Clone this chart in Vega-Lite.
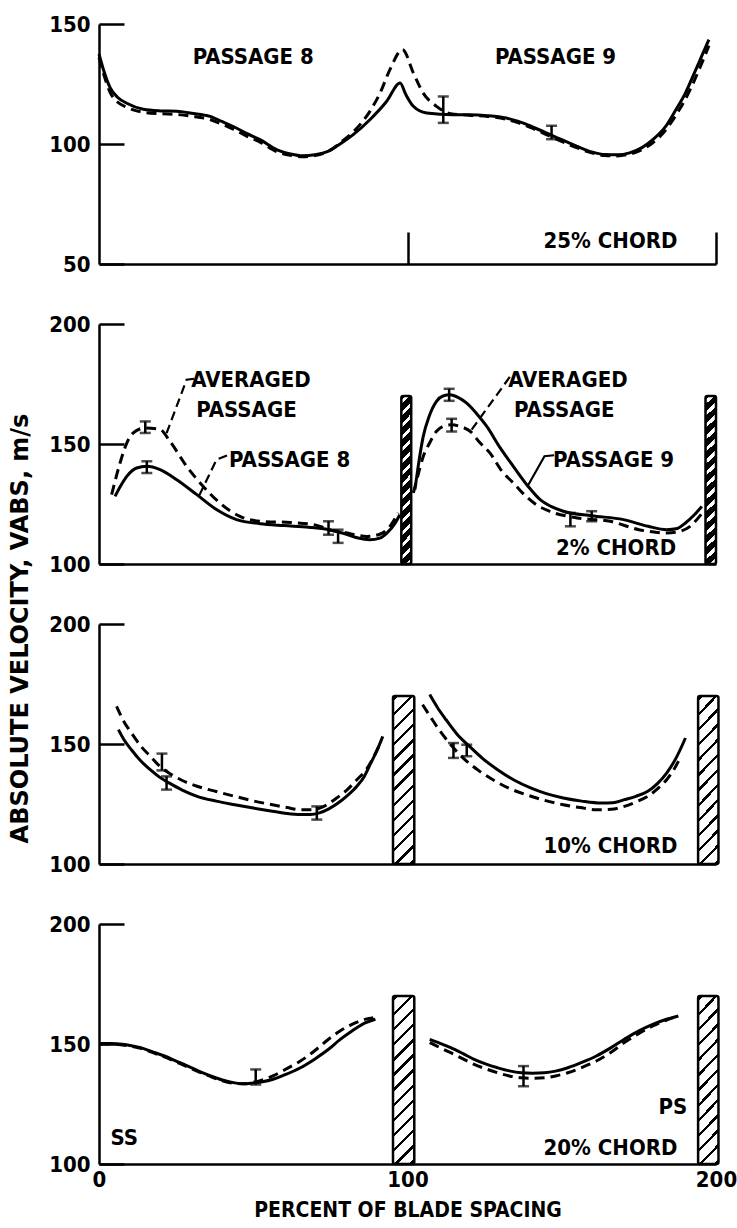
{
"$schema":"https://vega.github.io/schema/vega-lite/v6.json",
"padding":{"left":8,"top":13,"right":4,"bottom":4},
"spacing":60,
"bounds":"flush",
"config":{
 "view":{"stroke":null},
 "axis":{"domainColor":"black","domainWidth":2.5,"tickColor":"black","tickWidth":2.5,"labelColor":"black","labelFont":"DejaVu Sans Condensed","labelFontSize":22,"labelFontWeight":"bold","titleColor":"black","titleFont":"DejaVu Sans Condensed","grid":false,"labelFlush":false,"labelOverlap":false}
},
"datasets":{
 "curves":[
  {"panel":1,"style":"solid","seg":"a","x":0,"v":137.5},{"panel":1,"style":"solid","seg":"a","x":1.2,"v":132},{"panel":1,"style":"solid","seg":"a","x":3.6,"v":123.5},{"panel":1,"style":"solid","seg":"a","x":6,"v":119.5},{"panel":1,"style":"solid","seg":"a","x":9,"v":117},{"panel":1,"style":"solid","seg":"a","x":14.4,"v":114.5},{"panel":1,"style":"solid","seg":"a","x":20,"v":113.8},{"panel":1,"style":"solid","seg":"a","x":25.2,"v":113.6},{"panel":1,"style":"solid","seg":"a","x":30,"v":112.8},{"panel":1,"style":"solid","seg":"a","x":36,"v":111.5},{"panel":1,"style":"solid","seg":"a","x":40,"v":109.3},{"panel":1,"style":"solid","seg":"a","x":43.5,"v":107.3},{"panel":1,"style":"solid","seg":"a","x":48,"v":104.3},{"panel":1,"style":"solid","seg":"a","x":52.2,"v":101.8},{"panel":1,"style":"solid","seg":"a","x":57.7,"v":97.6},{"panel":1,"style":"solid","seg":"a","x":62,"v":95.9},{"panel":1,"style":"solid","seg":"a","x":66,"v":95.1},{"panel":1,"style":"solid","seg":"a","x":70,"v":95.5},{"panel":1,"style":"solid","seg":"a","x":74.4,"v":97},{"panel":1,"style":"solid","seg":"a","x":78.5,"v":100.3},{"panel":1,"style":"solid","seg":"a","x":82.4,"v":103.9},{"panel":1,"style":"solid","seg":"a","x":87.8,"v":110.1},{"panel":1,"style":"solid","seg":"a","x":93.2,"v":117.7},{"panel":1,"style":"solid","seg":"a","x":97.6,"v":125.4},{"panel":1,"style":"solid","seg":"a","x":99.5,"v":120.5},{"panel":1,"style":"solid","seg":"a","x":101.9,"v":115.7},{"panel":1,"style":"solid","seg":"a","x":106.2,"v":112.9},{"panel":1,"style":"solid","seg":"a","x":114.8,"v":112.2},{"panel":1,"style":"solid","seg":"a","x":120,"v":112.2},{"panel":1,"style":"solid","seg":"a","x":126,"v":111.8},{"panel":1,"style":"solid","seg":"a","x":132,"v":110.8},{"panel":1,"style":"solid","seg":"a","x":136,"v":109.4},{"panel":1,"style":"solid","seg":"a","x":140,"v":107.4},{"panel":1,"style":"solid","seg":"a","x":147.5,"v":103.2},{"panel":1,"style":"solid","seg":"a","x":155,"v":99},{"panel":1,"style":"solid","seg":"a","x":160,"v":96.6},{"panel":1,"style":"solid","seg":"a","x":164,"v":95.6},{"panel":1,"style":"solid","seg":"a","x":168,"v":95.5},{"panel":1,"style":"solid","seg":"a","x":172,"v":96.3},{"panel":1,"style":"solid","seg":"a","x":176,"v":98.5},{"panel":1,"style":"solid","seg":"a","x":179.5,"v":101.8},{"panel":1,"style":"solid","seg":"a","x":183.5,"v":107},{"panel":1,"style":"solid","seg":"a","x":187,"v":114.3},{"panel":1,"style":"solid","seg":"a","x":190,"v":121},{"panel":1,"style":"solid","seg":"a","x":193,"v":129.6},{"panel":1,"style":"solid","seg":"a","x":195.5,"v":137},{"panel":1,"style":"solid","seg":"a","x":197.7,"v":143.5},
  {"panel":1,"style":"dashed","seg":"a","x":0,"v":136},{"panel":1,"style":"dashed","seg":"a","x":1.2,"v":130.5},{"panel":1,"style":"dashed","seg":"a","x":3.6,"v":121.5},{"panel":1,"style":"dashed","seg":"a","x":6,"v":117.5},{"panel":1,"style":"dashed","seg":"a","x":9,"v":115.3},{"panel":1,"style":"dashed","seg":"a","x":14.4,"v":113.2},{"panel":1,"style":"dashed","seg":"a","x":20,"v":112.6},{"panel":1,"style":"dashed","seg":"a","x":25.2,"v":112.3},{"panel":1,"style":"dashed","seg":"a","x":30,"v":111.6},{"panel":1,"style":"dashed","seg":"a","x":36,"v":110.2},{"panel":1,"style":"dashed","seg":"a","x":40,"v":108.2},{"panel":1,"style":"dashed","seg":"a","x":43.5,"v":106.2},{"panel":1,"style":"dashed","seg":"a","x":48,"v":103.2},{"panel":1,"style":"dashed","seg":"a","x":52.2,"v":100.8},{"panel":1,"style":"dashed","seg":"a","x":57.7,"v":96.8},{"panel":1,"style":"dashed","seg":"a","x":62,"v":95.3},{"panel":1,"style":"dashed","seg":"a","x":66,"v":94.7},{"panel":1,"style":"dashed","seg":"a","x":70,"v":95.2},{"panel":1,"style":"dashed","seg":"a","x":74.4,"v":97},{"panel":1,"style":"dashed","seg":"a","x":78.5,"v":100.8},{"panel":1,"style":"dashed","seg":"a","x":82.4,"v":105},{"panel":1,"style":"dashed","seg":"a","x":87.8,"v":113.6},{"panel":1,"style":"dashed","seg":"a","x":91.1,"v":121.2},{"panel":1,"style":"dashed","seg":"a","x":94.3,"v":131},{"panel":1,"style":"dashed","seg":"a","x":98.4,"v":139.3},{"panel":1,"style":"dashed","seg":"a","x":101.9,"v":129.6},{"panel":1,"style":"dashed","seg":"a","x":105.1,"v":121.2},{"panel":1,"style":"dashed","seg":"a","x":109.4,"v":115.7},{"panel":1,"style":"dashed","seg":"a","x":114,"v":112.6},{"panel":1,"style":"dashed","seg":"a","x":120,"v":112},{"panel":1,"style":"dashed","seg":"a","x":126,"v":111.5},{"panel":1,"style":"dashed","seg":"a","x":132,"v":110.3},{"panel":1,"style":"dashed","seg":"a","x":136,"v":108.8},{"panel":1,"style":"dashed","seg":"a","x":140,"v":106.8},{"panel":1,"style":"dashed","seg":"a","x":147.5,"v":102.5},{"panel":1,"style":"dashed","seg":"a","x":155,"v":98.4},{"panel":1,"style":"dashed","seg":"a","x":160,"v":96.2},{"panel":1,"style":"dashed","seg":"a","x":164,"v":95.2},{"panel":1,"style":"dashed","seg":"a","x":168,"v":95},{"panel":1,"style":"dashed","seg":"a","x":172,"v":95.8},{"panel":1,"style":"dashed","seg":"a","x":176,"v":97.6},{"panel":1,"style":"dashed","seg":"a","x":179.5,"v":100.5},{"panel":1,"style":"dashed","seg":"a","x":183.5,"v":105.5},{"panel":1,"style":"dashed","seg":"a","x":187,"v":112},{"panel":1,"style":"dashed","seg":"a","x":190,"v":118.5},{"panel":1,"style":"dashed","seg":"a","x":193,"v":126.5},{"panel":1,"style":"dashed","seg":"a","x":195.5,"v":134},{"panel":1,"style":"dashed","seg":"a","x":197.7,"v":141},

  {"panel":2,"style":"solid","seg":"8","x":5.2,"v":128.2},{"panel":2,"style":"solid","seg":"8","x":7,"v":132.5},{"panel":2,"style":"solid","seg":"8","x":9,"v":136.5},{"panel":2,"style":"solid","seg":"8","x":12.2,"v":140},{"panel":2,"style":"solid","seg":"8","x":15.5,"v":140.7},{"panel":2,"style":"solid","seg":"8","x":19.8,"v":139.3},{"panel":2,"style":"solid","seg":"8","x":25.2,"v":135.1},{"panel":2,"style":"solid","seg":"8","x":31.7,"v":128.9},{"panel":2,"style":"solid","seg":"8","x":38.2,"v":122.6},{"panel":2,"style":"solid","seg":"8","x":44.6,"v":118.5},{"panel":2,"style":"solid","seg":"8","x":52.2,"v":116.8},{"panel":2,"style":"solid","seg":"8","x":60,"v":116},{"panel":2,"style":"solid","seg":"8","x":68,"v":115.3},{"panel":2,"style":"solid","seg":"8","x":74.4,"v":114.3},{"panel":2,"style":"solid","seg":"8","x":80,"v":112.5},{"panel":2,"style":"solid","seg":"8","x":84,"v":110.8},{"panel":2,"style":"solid","seg":"8","x":87.8,"v":110.1},{"panel":2,"style":"solid","seg":"8","x":91,"v":110.8},{"panel":2,"style":"solid","seg":"8","x":93.3,"v":112.9},{"panel":2,"style":"solid","seg":"8","x":96,"v":117},{"panel":2,"style":"solid","seg":"8","x":97.5,"v":120.5},
  {"panel":2,"style":"dashed","seg":"8","x":4.1,"v":128.9},{"panel":2,"style":"dashed","seg":"8","x":6.8,"v":142},{"panel":2,"style":"dashed","seg":"8","x":9,"v":150.4},{"panel":2,"style":"dashed","seg":"8","x":11.1,"v":154.6},{"panel":2,"style":"dashed","seg":"8","x":14.9,"v":156.7},{"panel":2,"style":"dashed","seg":"8","x":19.8,"v":156},{"panel":2,"style":"dashed","seg":"8","x":23,"v":151.1},{"panel":2,"style":"dashed","seg":"8","x":28.4,"v":140.7},{"panel":2,"style":"dashed","seg":"8","x":33.8,"v":132.3},{"panel":2,"style":"dashed","seg":"8","x":39.2,"v":125.4},{"panel":2,"style":"dashed","seg":"8","x":45.7,"v":119.8},{"panel":2,"style":"dashed","seg":"8","x":52.2,"v":117.8},{"panel":2,"style":"dashed","seg":"8","x":62,"v":117.3},{"panel":2,"style":"dashed","seg":"8","x":70,"v":116.3},{"panel":2,"style":"dashed","seg":"8","x":74.9,"v":114.3},{"panel":2,"style":"dashed","seg":"8","x":80,"v":113},{"panel":2,"style":"dashed","seg":"8","x":86.8,"v":111.5},{"panel":2,"style":"dashed","seg":"8","x":91.2,"v":112.5},{"panel":2,"style":"dashed","seg":"8","x":94.3,"v":115.7},{"panel":2,"style":"dashed","seg":"8","x":97,"v":121.3},
  {"panel":2,"style":"solid","seg":"9","x":102.4,"v":131},{"panel":2,"style":"solid","seg":"9","x":103.5,"v":141},{"panel":2,"style":"solid","seg":"9","x":105.1,"v":153.2},{"panel":2,"style":"solid","seg":"9","x":107,"v":161.5},{"panel":2,"style":"solid","seg":"9","x":109.4,"v":167.8},{"panel":2,"style":"solid","seg":"9","x":111.5,"v":170},{"panel":2,"style":"solid","seg":"9","x":113.8,"v":170.5},{"panel":2,"style":"solid","seg":"9","x":116.5,"v":169.3},{"panel":2,"style":"solid","seg":"9","x":119.2,"v":167},{"panel":2,"style":"solid","seg":"9","x":122.5,"v":162.5},{"panel":2,"style":"solid","seg":"9","x":125.7,"v":157.3},{"panel":2,"style":"solid","seg":"9","x":130,"v":148.5},{"panel":2,"style":"solid","seg":"9","x":134.3,"v":140.7},{"panel":2,"style":"solid","seg":"9","x":139,"v":132.5},{"panel":2,"style":"solid","seg":"9","x":143,"v":126.8},{"panel":2,"style":"solid","seg":"9","x":146.5,"v":124},{"panel":2,"style":"solid","seg":"9","x":150.5,"v":122},{"panel":2,"style":"solid","seg":"9","x":159.7,"v":120.1},{"panel":2,"style":"solid","seg":"9","x":170,"v":118.5},{"panel":2,"style":"solid","seg":"9","x":178,"v":115.7},{"panel":2,"style":"solid","seg":"9","x":184,"v":114.3},{"panel":2,"style":"solid","seg":"9","x":187.5,"v":114.8},{"panel":2,"style":"solid","seg":"9","x":190,"v":117},{"panel":2,"style":"solid","seg":"9","x":193,"v":120.5},{"panel":2,"style":"solid","seg":"9","x":195.4,"v":124},
  {"panel":2,"style":"dashed","seg":"9","x":101.9,"v":129.6},{"panel":2,"style":"dashed","seg":"9","x":103.5,"v":137.5},{"panel":2,"style":"dashed","seg":"9","x":105.1,"v":144.8},{"panel":2,"style":"dashed","seg":"9","x":107.2,"v":150.5},{"panel":2,"style":"dashed","seg":"9","x":109.4,"v":155.3},{"panel":2,"style":"dashed","seg":"9","x":111.8,"v":157.5},{"panel":2,"style":"dashed","seg":"9","x":114.3,"v":158},{"panel":2,"style":"dashed","seg":"9","x":117,"v":157.3},{"panel":2,"style":"dashed","seg":"9","x":120.3,"v":155.3},{"panel":2,"style":"dashed","seg":"9","x":123.5,"v":150.5},{"panel":2,"style":"dashed","seg":"9","x":126.7,"v":146.3},{"panel":2,"style":"dashed","seg":"9","x":130.7,"v":138.5},{"panel":2,"style":"dashed","seg":"9","x":134.3,"v":133.8},{"panel":2,"style":"dashed","seg":"9","x":138.4,"v":128.2},{"panel":2,"style":"dashed","seg":"9","x":142,"v":124.5},{"panel":2,"style":"dashed","seg":"9","x":146,"v":122},{"panel":2,"style":"dashed","seg":"9","x":155,"v":119.2},{"panel":2,"style":"dashed","seg":"9","x":165.7,"v":117.8},{"panel":2,"style":"dashed","seg":"9","x":175,"v":114.3},{"panel":2,"style":"dashed","seg":"9","x":180,"v":113.3},{"panel":2,"style":"dashed","seg":"9","x":184,"v":112.9},{"panel":2,"style":"dashed","seg":"9","x":188,"v":113.5},{"panel":2,"style":"dashed","seg":"9","x":191.6,"v":115.7},{"panel":2,"style":"dashed","seg":"9","x":195.4,"v":121},

  {"panel":3,"style":"solid","seg":"8","x":6.3,"v":156},{"panel":3,"style":"solid","seg":"8","x":8,"v":152},{"panel":3,"style":"solid","seg":"8","x":10.5,"v":147.6},{"panel":3,"style":"solid","seg":"8","x":13.5,"v":143},{"panel":3,"style":"solid","seg":"8","x":16.6,"v":139.3},{"panel":3,"style":"solid","seg":"8","x":19.5,"v":136.3},{"panel":3,"style":"solid","seg":"8","x":22.7,"v":133.8},{"panel":3,"style":"solid","seg":"8","x":27,"v":130.8},{"panel":3,"style":"solid","seg":"8","x":31.8,"v":128.2},{"panel":3,"style":"solid","seg":"8","x":38,"v":126.2},{"panel":3,"style":"solid","seg":"8","x":44,"v":124.7},{"panel":3,"style":"solid","seg":"8","x":50,"v":123.3},{"panel":3,"style":"solid","seg":"8","x":56.2,"v":122},{"panel":3,"style":"solid","seg":"8","x":61,"v":121},{"panel":3,"style":"solid","seg":"8","x":65.3,"v":120.6},{"panel":3,"style":"solid","seg":"8","x":68.5,"v":120.6},{"panel":3,"style":"solid","seg":"8","x":71.4,"v":121.3},{"panel":3,"style":"solid","seg":"8","x":74.5,"v":123},{"panel":3,"style":"solid","seg":"8","x":77.5,"v":125.4},{"panel":3,"style":"solid","seg":"8","x":80.5,"v":128.5},{"panel":3,"style":"solid","seg":"8","x":83.6,"v":132.4},{"panel":3,"style":"solid","seg":"8","x":86,"v":136.5},{"panel":3,"style":"solid","seg":"8","x":88.1,"v":142},{"panel":3,"style":"solid","seg":"8","x":90,"v":147},{"panel":3,"style":"solid","seg":"8","x":92,"v":153.2},
  {"panel":3,"style":"dashed","seg":"8","x":5.7,"v":165.7},{"panel":3,"style":"dashed","seg":"8","x":8,"v":159.5},{"panel":3,"style":"dashed","seg":"8","x":10.5,"v":154.6},{"panel":3,"style":"dashed","seg":"8","x":13.5,"v":149.2},{"panel":3,"style":"dashed","seg":"8","x":16.6,"v":144.9},{"panel":3,"style":"dashed","seg":"8","x":19.5,"v":141},{"panel":3,"style":"dashed","seg":"8","x":22.7,"v":137.9},{"panel":3,"style":"dashed","seg":"8","x":27,"v":134.8},{"panel":3,"style":"dashed","seg":"8","x":31.8,"v":132.4},{"panel":3,"style":"dashed","seg":"8","x":38,"v":130.2},{"panel":3,"style":"dashed","seg":"8","x":44,"v":128.2},{"panel":3,"style":"dashed","seg":"8","x":50,"v":126.3},{"panel":3,"style":"dashed","seg":"8","x":56.2,"v":124.7},{"panel":3,"style":"dashed","seg":"8","x":61,"v":123.5},{"panel":3,"style":"dashed","seg":"8","x":65.3,"v":122.6},{"panel":3,"style":"dashed","seg":"8","x":69,"v":122.6},{"panel":3,"style":"dashed","seg":"8","x":72.9,"v":124},{"panel":3,"style":"dashed","seg":"8","x":76.5,"v":127},{"panel":3,"style":"dashed","seg":"8","x":80.5,"v":131},{"panel":3,"style":"dashed","seg":"8","x":83.5,"v":135},{"panel":3,"style":"dashed","seg":"8","x":86.6,"v":139.3},{"panel":3,"style":"dashed","seg":"8","x":89,"v":144.5},{"panel":3,"style":"dashed","seg":"8","x":91.2,"v":150.4},
  {"panel":3,"style":"solid","seg":"9","x":107.2,"v":170.6},{"panel":3,"style":"solid","seg":"9","x":109.8,"v":165},{"panel":3,"style":"solid","seg":"9","x":112.5,"v":160.1},{"panel":3,"style":"solid","seg":"9","x":116,"v":154.2},{"panel":3,"style":"solid","seg":"9","x":120.1,"v":149},{"panel":3,"style":"solid","seg":"9","x":124.5,"v":143.8},{"panel":3,"style":"solid","seg":"9","x":129.2,"v":139.3},{"panel":3,"style":"solid","seg":"9","x":134.5,"v":135},{"panel":3,"style":"solid","seg":"9","x":139.9,"v":131.7},{"panel":3,"style":"solid","seg":"9","x":145,"v":129.3},{"panel":3,"style":"solid","seg":"9","x":150.5,"v":127.5},{"panel":3,"style":"solid","seg":"9","x":156.5,"v":126.2},{"panel":3,"style":"solid","seg":"9","x":162.7,"v":125.4},{"panel":3,"style":"solid","seg":"9","x":166.5,"v":125.5},{"panel":3,"style":"solid","seg":"9","x":170.3,"v":126.8},{"panel":3,"style":"solid","seg":"9","x":174,"v":128.2},{"panel":3,"style":"solid","seg":"9","x":177.9,"v":130.3},{"panel":3,"style":"solid","seg":"9","x":181,"v":133.5},{"panel":3,"style":"solid","seg":"9","x":184,"v":137.9},{"panel":3,"style":"solid","seg":"9","x":187,"v":144},{"panel":3,"style":"solid","seg":"9","x":190.1,"v":152.5},
  {"panel":3,"style":"dashed","seg":"9","x":104.9,"v":166.4},{"panel":3,"style":"dashed","seg":"9","x":108,"v":160.2},{"panel":3,"style":"dashed","seg":"9","x":111,"v":154.6},{"panel":3,"style":"dashed","seg":"9","x":114.8,"v":148.5},{"panel":3,"style":"dashed","seg":"9","x":118.6,"v":143.5},{"panel":3,"style":"dashed","seg":"9","x":123,"v":139},{"panel":3,"style":"dashed","seg":"9","x":127.7,"v":135.1},{"panel":3,"style":"dashed","seg":"9","x":133,"v":131.5},{"panel":3,"style":"dashed","seg":"9","x":138.4,"v":128.9},{"panel":3,"style":"dashed","seg":"9","x":144.5,"v":126.5},{"panel":3,"style":"dashed","seg":"9","x":150.5,"v":124.7},{"panel":3,"style":"dashed","seg":"9","x":156,"v":123.5},{"panel":3,"style":"dashed","seg":"9","x":161.2,"v":122.6},{"panel":3,"style":"dashed","seg":"9","x":166,"v":122.8},{"panel":3,"style":"dashed","seg":"9","x":170.3,"v":124},{"panel":3,"style":"dashed","seg":"9","x":174,"v":125.8},{"panel":3,"style":"dashed","seg":"9","x":177.9,"v":128.2},{"panel":3,"style":"dashed","seg":"9","x":181,"v":131.3},{"panel":3,"style":"dashed","seg":"9","x":184,"v":135.1},{"panel":3,"style":"dashed","seg":"9","x":186.5,"v":139.7},{"panel":3,"style":"dashed","seg":"9","x":188.6,"v":144.9},

  {"panel":4,"style":"solid","seg":"8","x":0.5,"v":150.2},{"panel":4,"style":"solid","seg":"8","x":4,"v":150.2},{"panel":4,"style":"solid","seg":"8","x":7.5,"v":149.9},{"panel":4,"style":"solid","seg":"8","x":10.5,"v":149.3},{"panel":4,"style":"solid","seg":"8","x":13.5,"v":148.5},{"panel":4,"style":"solid","seg":"8","x":17,"v":146.9},{"panel":4,"style":"solid","seg":"8","x":21.2,"v":145},{"panel":4,"style":"solid","seg":"8","x":25,"v":142.9},{"panel":4,"style":"solid","seg":"8","x":28.8,"v":140.8},{"panel":4,"style":"solid","seg":"8","x":32.5,"v":138.6},{"panel":4,"style":"solid","seg":"8","x":36.4,"v":136.6},{"panel":4,"style":"solid","seg":"8","x":40,"v":135},{"panel":4,"style":"solid","seg":"8","x":44,"v":133.8},{"panel":4,"style":"solid","seg":"8","x":47,"v":133.4},{"panel":4,"style":"solid","seg":"8","x":50,"v":133.8},{"panel":4,"style":"solid","seg":"8","x":53,"v":134.3},{"panel":4,"style":"solid","seg":"8","x":56.2,"v":135.2},{"panel":4,"style":"solid","seg":"8","x":60.5,"v":137.3},{"panel":4,"style":"solid","seg":"8","x":65.3,"v":140.1},{"panel":4,"style":"solid","seg":"8","x":70,"v":143.8},{"panel":4,"style":"solid","seg":"8","x":74.4,"v":147.8},{"panel":4,"style":"solid","seg":"8","x":78,"v":151.7},{"panel":4,"style":"solid","seg":"8","x":82,"v":155.4},{"panel":4,"style":"solid","seg":"8","x":85.5,"v":158.3},{"panel":4,"style":"solid","seg":"8","x":89.6,"v":160.3},
  {"panel":4,"style":"dashed","seg":"8","x":0.5,"v":150},{"panel":4,"style":"dashed","seg":"8","x":4,"v":150},{"panel":4,"style":"dashed","seg":"8","x":7.5,"v":149.6},{"panel":4,"style":"dashed","seg":"8","x":10.5,"v":149},{"panel":4,"style":"dashed","seg":"8","x":13.5,"v":148.2},{"panel":4,"style":"dashed","seg":"8","x":17,"v":146.6},{"panel":4,"style":"dashed","seg":"8","x":21.2,"v":144.6},{"panel":4,"style":"dashed","seg":"8","x":25,"v":142.5},{"panel":4,"style":"dashed","seg":"8","x":28.8,"v":140.4},{"panel":4,"style":"dashed","seg":"8","x":32.5,"v":138.3},{"panel":4,"style":"dashed","seg":"8","x":36.4,"v":136.3},{"panel":4,"style":"dashed","seg":"8","x":40,"v":134.7},{"panel":4,"style":"dashed","seg":"8","x":44,"v":133.6},{"panel":4,"style":"dashed","seg":"8","x":47,"v":133.4},{"panel":4,"style":"dashed","seg":"8","x":50,"v":134},{"panel":4,"style":"dashed","seg":"8","x":53,"v":135},{"panel":4,"style":"dashed","seg":"8","x":56.2,"v":136.6},{"panel":4,"style":"dashed","seg":"8","x":60.5,"v":139.5},{"panel":4,"style":"dashed","seg":"8","x":65.3,"v":142.9},{"panel":4,"style":"dashed","seg":"8","x":70,"v":147.3},{"panel":4,"style":"dashed","seg":"8","x":74.4,"v":152},{"panel":4,"style":"dashed","seg":"8","x":78,"v":155.3},{"panel":4,"style":"dashed","seg":"8","x":82,"v":158.2},{"panel":4,"style":"dashed","seg":"8","x":85.5,"v":160},{"panel":4,"style":"dashed","seg":"8","x":88.9,"v":161},
  {"panel":4,"style":"solid","seg":"9","x":107.2,"v":151.9},{"panel":4,"style":"solid","seg":"9","x":110.5,"v":150.3},{"panel":4,"style":"solid","seg":"9","x":114,"v":148.5},{"panel":4,"style":"solid","seg":"9","x":118,"v":146},{"panel":4,"style":"solid","seg":"9","x":121.6,"v":143.6},{"panel":4,"style":"solid","seg":"9","x":125.5,"v":141.6},{"panel":4,"style":"solid","seg":"9","x":129.2,"v":140.1},{"panel":4,"style":"solid","seg":"9","x":133,"v":138.8},{"panel":4,"style":"solid","seg":"9","x":136.8,"v":138},{"panel":4,"style":"solid","seg":"9","x":140.5,"v":137.8},{"panel":4,"style":"solid","seg":"9","x":144.4,"v":138},{"panel":4,"style":"solid","seg":"9","x":148,"v":138.7},{"panel":4,"style":"solid","seg":"9","x":152,"v":140.1},{"panel":4,"style":"solid","seg":"9","x":156.5,"v":142.3},{"panel":4,"style":"solid","seg":"9","x":161.2,"v":145},{"panel":4,"style":"solid","seg":"9","x":166,"v":148.5},{"panel":4,"style":"solid","seg":"9","x":170.3,"v":152},{"panel":4,"style":"solid","seg":"9","x":175,"v":155.5},{"panel":4,"style":"solid","seg":"9","x":179.5,"v":158.2},{"panel":4,"style":"solid","seg":"9","x":184,"v":160.3},{"panel":4,"style":"solid","seg":"9","x":187.8,"v":161.7},
  {"panel":4,"style":"dashed","seg":"9","x":107.2,"v":150.6},{"panel":4,"style":"dashed","seg":"9","x":110.5,"v":148.5},{"panel":4,"style":"dashed","seg":"9","x":114,"v":146.4},{"panel":4,"style":"dashed","seg":"9","x":118,"v":143.8},{"panel":4,"style":"dashed","seg":"9","x":121.6,"v":141.5},{"panel":4,"style":"dashed","seg":"9","x":125.5,"v":139.6},{"panel":4,"style":"dashed","seg":"9","x":129.2,"v":138},{"panel":4,"style":"dashed","seg":"9","x":133,"v":136.7},{"panel":4,"style":"dashed","seg":"9","x":136.8,"v":135.9},{"panel":4,"style":"dashed","seg":"9","x":140.5,"v":135.7},{"panel":4,"style":"dashed","seg":"9","x":144.4,"v":135.9},{"panel":4,"style":"dashed","seg":"9","x":148,"v":136.7},{"panel":4,"style":"dashed","seg":"9","x":152,"v":138},{"panel":4,"style":"dashed","seg":"9","x":156.5,"v":140.2},{"panel":4,"style":"dashed","seg":"9","x":161.2,"v":142.9},{"panel":4,"style":"dashed","seg":"9","x":166,"v":146.6},{"panel":4,"style":"dashed","seg":"9","x":170.3,"v":150.6},{"panel":4,"style":"dashed","seg":"9","x":175,"v":154.4},{"panel":4,"style":"dashed","seg":"9","x":179.5,"v":157.5},{"panel":4,"style":"dashed","seg":"9","x":184,"v":160},{"panel":4,"style":"dashed","seg":"9","x":187.8,"v":161.7}
 ],
 "blades":[
  {"panel":2,"x0":98,"x1":101.2,"top":170},{"panel":2,"x0":196.6,"x1":200,"top":170},
  {"panel":3,"x0":95.3,"x1":102.2,"top":170},{"panel":3,"x0":194.2,"x1":200.8,"top":170},
  {"panel":4,"x0":95.3,"x1":102.2,"top":170},{"panel":4,"x0":194.2,"x1":200.8,"top":170}
 ],
 "errs":[
  {"panel":1,"x":111.6,"v":108.8,"v2":119.8},{"panel":1,"x":146.7,"v":102,"v2":107.6},
  {"panel":2,"x":15.5,"v":137.9,"v2":142.8},{"panel":2,"x":15,"v":154.6,"v2":159.4},{"panel":2,"x":113.5,"v":168,"v2":173},{"panel":2,"x":114.3,"v":155.2,"v2":160.5},{"panel":2,"x":74.4,"v":112.2,"v2":117.8},{"panel":2,"x":77.5,"v":108.8,"v2":114.3},{"panel":2,"x":152.8,"v":115.7,"v2":121.3},{"panel":2,"x":159.7,"v":117.8,"v2":122},
  {"panel":3,"x":20.4,"v":139,"v2":146},{"panel":3,"x":21.9,"v":131,"v2":136.5},{"panel":3,"x":70.6,"v":118.5,"v2":124},{"panel":3,"x":114.9,"v":144.2,"v2":150.4},{"panel":3,"x":119.2,"v":144.9,"v2":149.7},
  {"panel":4,"x":50.8,"v":133.1,"v2":139.4},{"panel":4,"x":137.6,"v":132.4,"v2":140.8}
 ],
 "labels":[
  {"panel":1,"x":50,"v":136.4,"text":"PASSAGE 8"},{"panel":1,"x":148,"v":136.4,"text":"PASSAGE 9"},{"panel":1,"x":165.8,"v":59.4,"text":"25% CHORD"},
  {"panel":2,"x":49.3,"v":176.8,"text":"AVERAGED"},{"panel":2,"x":47.8,"v":164.3,"text":"PASSAGE"},{"panel":2,"x":61.8,"v":143.5,"text":"PASSAGE 8"},{"panel":2,"x":152,"v":176.8,"text":"AVERAGED"},{"panel":2,"x":150.8,"v":164.3,"text":"PASSAGE"},{"panel":2,"x":166.8,"v":143.5,"text":"PASSAGE 9"},{"panel":2,"x":167.6,"v":106.7,"text":"2% CHORD"},
  {"panel":3,"x":165.8,"v":107.4,"text":"10% CHORD"},
  {"panel":4,"x":8.2,"v":110.9,"text":"SS"},{"panel":4,"x":186,"v":123.8,"text":"PS"},{"panel":4,"x":165.8,"v":106.7,"text":"20% CHORD"}
 ],
 "leaders":[
  {"id":"A8","style":"dashed","o":1,"x":21.9,"v":154.5},{"id":"A8","style":"dashed","o":2,"x":28.4,"v":176.8},{"id":"A8","style":"dashed","o":3,"x":30.8,"v":177.2},
  {"id":"P8","style":"dashed","o":1,"x":32.5,"v":128.6},{"id":"P8","style":"dashed","o":2,"x":38.1,"v":143.5},{"id":"P8","style":"dashed","o":3,"x":42,"v":145.5},
  {"id":"A9","style":"dashed","o":1,"x":120.8,"v":156},{"id":"A9","style":"dashed","o":2,"x":133.2,"v":178},{"id":"A9","style":"dashed","o":3,"x":134.2,"v":178},
  {"id":"P9","style":"solid","o":1,"x":139,"v":132.6},{"id":"P9","style":"solid","o":2,"x":144.4,"v":144.9},{"id":"P9","style":"solid","o":3,"x":147.5,"v":145.3}
 ]
},
"vconcat":[
 {"width":617,"height":240,
  "layer":[
   {"data":{"name":"curves"},"transform":[{"filter":"datum.panel==1 && datum.style=='solid'"}],
    "mark":{"type":"line","interpolate":"monotone","color":"black","strokeWidth":3},
    "encoding":{
     "x":{"field":"x","type":"quantitative","scale":{"domain":[0,200],"nice":false,"zero":false},"axis":{"values":[100,200],"tickSize":-32,"labels":false,"title":null}},
     "y":{"field":"v","type":"quantitative","scale":{"domain":[50,150],"nice":false,"zero":false},"axis":{"values":[50,100,150],"tickSize":-25,"labelPadding":34,"title":null}},
     "detail":{"field":"seg"}}},
   {"data":{"name":"curves"},"transform":[{"filter":"datum.panel==1 && datum.style=='dashed'"}],
    "mark":{"type":"line","interpolate":"monotone","color":"black","strokeWidth":3,"strokeDash":[10,6]},
    "encoding":{"x":{"field":"x","type":"quantitative"},"y":{"field":"v","type":"quantitative"},"detail":{"field":"seg"}}},
   {"data":{"name":"errs"},"transform":[{"filter":"datum.panel==1"}],
    "mark":{"type":"rule","color":"black","strokeWidth":2.5},
    "encoding":{"x":{"field":"x","type":"quantitative"},"y":{"field":"v","type":"quantitative"},"y2":{"field":"v2"}}},
   {"data":{"name":"errs"},"transform":[{"filter":"datum.panel==1"}],
    "mark":{"type":"tick","orient":"horizontal","size":11,"thickness":2.5,"color":"black"},
    "encoding":{"x":{"field":"x","type":"quantitative"},"y":{"field":"v","type":"quantitative"}}},
   {"data":{"name":"errs"},"transform":[{"filter":"datum.panel==1"}],
    "mark":{"type":"tick","orient":"horizontal","size":11,"thickness":2.5,"color":"black"},
    "encoding":{"x":{"field":"x","type":"quantitative"},"y":{"field":"v2","type":"quantitative"}}},
   {"data":{"name":"labels"},"transform":[{"filter":"datum.panel==1"}],
    "mark":{"type":"text","font":"DejaVu Sans Condensed","fontSize":22,"fontWeight":"bold","color":"black","align":"center","baseline":"middle"},
    "encoding":{"x":{"field":"x","type":"quantitative"},"y":{"field":"v","type":"quantitative"},"text":{"field":"text"}}}
  ]},
 {"width":617,"height":240,
  "layer":[
   {"data":{"name":"curves"},"transform":[{"filter":"datum.panel==2 && datum.style=='solid'"}],
    "mark":{"type":"line","interpolate":"monotone","color":"black","strokeWidth":3},
    "encoding":{
     "x":{"field":"x","type":"quantitative","scale":{"domain":[0,200],"nice":false,"zero":false},"axis":{"ticks":false,"labels":false,"title":null}},
     "y":{"field":"v","type":"quantitative","scale":{"domain":[100,200],"nice":false,"zero":false},"axis":{"values":[100,150,200],"tickSize":-25,"labelPadding":34,"title":"ABSOLUTE VELOCITY, VABS, m/s","titleFont":"DejaVu Sans","titleFontSize":24,"titleFontWeight":"bold","titleX":-72,"titleY":304,"titleBaseline":"alphabetic","titleAngle":270,"titleAlign":"center"}},
     "detail":{"field":"seg"}}},
   {"data":{"name":"curves"},"transform":[{"filter":"datum.panel==2 && datum.style=='dashed'"}],
    "mark":{"type":"line","interpolate":"monotone","color":"black","strokeWidth":3,"strokeDash":[10,6]},
    "encoding":{"x":{"field":"x","type":"quantitative"},"y":{"field":"v","type":"quantitative"},"detail":{"field":"seg"}}},
   {"data":{"name":"leaders"},"transform":[{"filter":"datum.style=='dashed'"}],
    "mark":{"type":"line","color":"black","strokeWidth":2.2,"strokeDash":[9,5]},
    "encoding":{"x":{"field":"x","type":"quantitative"},"y":{"field":"v","type":"quantitative"},"detail":{"field":"id"},"order":{"field":"o"}}},
   {"data":{"name":"leaders"},"transform":[{"filter":"datum.style=='solid'"}],
    "mark":{"type":"line","color":"black","strokeWidth":2.2},
    "encoding":{"x":{"field":"x","type":"quantitative"},"y":{"field":"v","type":"quantitative"},"detail":{"field":"id"},"order":{"field":"o"}}},
   {"data":{"name":"errs"},"transform":[{"filter":"datum.panel==2"}],
    "mark":{"type":"rule","color":"black","strokeWidth":2.5},
    "encoding":{"x":{"field":"x","type":"quantitative"},"y":{"field":"v","type":"quantitative"},"y2":{"field":"v2"}}},
   {"data":{"name":"errs"},"transform":[{"filter":"datum.panel==2"}],
    "mark":{"type":"tick","orient":"horizontal","size":11,"thickness":2.5,"color":"black"},
    "encoding":{"x":{"field":"x","type":"quantitative"},"y":{"field":"v","type":"quantitative"}}},
   {"data":{"name":"errs"},"transform":[{"filter":"datum.panel==2"}],
    "mark":{"type":"tick","orient":"horizontal","size":11,"thickness":2.5,"color":"black"},
    "encoding":{"x":{"field":"x","type":"quantitative"},"y":{"field":"v2","type":"quantitative"}}},
   {"data":{"name":"blades"},"transform":[{"filter":"datum.panel==2"}],
    "mark":{"type":"rect","stroke":"black","strokeWidth":2.5,"cornerRadius":2,
     "fill":{"gradient":"linear","x1":0,"y1":0,"x2":0.0628,"y2":1.0558,"stops":[
      {"offset":0,"color":"#000"},
      {"offset":0.022,"color":"#000"},{"offset":0.022,"color":"#fff"},{"offset":0.047,"color":"#fff"},{"offset":0.047,"color":"#000"},
      {"offset":0.089,"color":"#000"},{"offset":0.089,"color":"#fff"},{"offset":0.114,"color":"#fff"},{"offset":0.114,"color":"#000"},
      {"offset":0.156,"color":"#000"},{"offset":0.156,"color":"#fff"},{"offset":0.181,"color":"#fff"},{"offset":0.181,"color":"#000"},
      {"offset":0.224,"color":"#000"},{"offset":0.224,"color":"#fff"},{"offset":0.249,"color":"#fff"},{"offset":0.249,"color":"#000"},
      {"offset":0.291,"color":"#000"},{"offset":0.291,"color":"#fff"},{"offset":0.316,"color":"#fff"},{"offset":0.316,"color":"#000"},
      {"offset":0.359,"color":"#000"},{"offset":0.359,"color":"#fff"},{"offset":0.384,"color":"#fff"},{"offset":0.384,"color":"#000"},
      {"offset":0.426,"color":"#000"},{"offset":0.426,"color":"#fff"},{"offset":0.451,"color":"#fff"},{"offset":0.451,"color":"#000"},
      {"offset":0.493,"color":"#000"},{"offset":0.493,"color":"#fff"},{"offset":0.518,"color":"#fff"},{"offset":0.518,"color":"#000"},
      {"offset":0.561,"color":"#000"},{"offset":0.561,"color":"#fff"},{"offset":0.586,"color":"#fff"},{"offset":0.586,"color":"#000"},
      {"offset":0.628,"color":"#000"},{"offset":0.628,"color":"#fff"},{"offset":0.653,"color":"#fff"},{"offset":0.653,"color":"#000"},
      {"offset":0.696,"color":"#000"},{"offset":0.696,"color":"#fff"},{"offset":0.721,"color":"#fff"},{"offset":0.721,"color":"#000"},
      {"offset":0.763,"color":"#000"},{"offset":0.763,"color":"#fff"},{"offset":0.788,"color":"#fff"},{"offset":0.788,"color":"#000"},
      {"offset":0.83,"color":"#000"},{"offset":0.83,"color":"#fff"},{"offset":0.855,"color":"#fff"},{"offset":0.855,"color":"#000"},
      {"offset":0.898,"color":"#000"},{"offset":0.898,"color":"#fff"},{"offset":0.923,"color":"#fff"},{"offset":0.923,"color":"#000"},
      {"offset":0.965,"color":"#000"},{"offset":0.965,"color":"#fff"},{"offset":0.99,"color":"#fff"},{"offset":0.99,"color":"#000"},
      {"offset":1,"color":"#000"}]}},
    "encoding":{"x":{"field":"x0","type":"quantitative"},"x2":{"field":"x1"},"y":{"field":"top","type":"quantitative"},"y2":{"datum":100}}},
   {"data":{"name":"labels"},"transform":[{"filter":"datum.panel==2"}],
    "mark":{"type":"text","font":"DejaVu Sans Condensed","fontSize":22,"fontWeight":"bold","color":"black","align":"center","baseline":"middle"},
    "encoding":{"x":{"field":"x","type":"quantitative"},"y":{"field":"v","type":"quantitative"},"text":{"field":"text"}}}
  ]},
 {"width":617,"height":240,
  "layer":[
   {"data":{"name":"curves"},"transform":[{"filter":"datum.panel==3 && datum.style=='solid'"}],
    "mark":{"type":"line","interpolate":"monotone","color":"black","strokeWidth":3},
    "encoding":{
     "x":{"field":"x","type":"quantitative","scale":{"domain":[0,200],"nice":false,"zero":false},"axis":{"ticks":false,"labels":false,"title":null}},
     "y":{"field":"v","type":"quantitative","scale":{"domain":[100,200],"nice":false,"zero":false},"axis":{"values":[100,150,200],"tickSize":-25,"labelPadding":34,"title":null}},
     "detail":{"field":"seg"}}},
   {"data":{"name":"curves"},"transform":[{"filter":"datum.panel==3 && datum.style=='dashed'"}],
    "mark":{"type":"line","interpolate":"monotone","color":"black","strokeWidth":3,"strokeDash":[10,6]},
    "encoding":{"x":{"field":"x","type":"quantitative"},"y":{"field":"v","type":"quantitative"},"detail":{"field":"seg"}}},
   {"data":{"name":"errs"},"transform":[{"filter":"datum.panel==3"}],
    "mark":{"type":"rule","color":"black","strokeWidth":2.5},
    "encoding":{"x":{"field":"x","type":"quantitative"},"y":{"field":"v","type":"quantitative"},"y2":{"field":"v2"}}},
   {"data":{"name":"errs"},"transform":[{"filter":"datum.panel==3"}],
    "mark":{"type":"tick","orient":"horizontal","size":11,"thickness":2.5,"color":"black"},
    "encoding":{"x":{"field":"x","type":"quantitative"},"y":{"field":"v","type":"quantitative"}}},
   {"data":{"name":"errs"},"transform":[{"filter":"datum.panel==3"}],
    "mark":{"type":"tick","orient":"horizontal","size":11,"thickness":2.5,"color":"black"},
    "encoding":{"x":{"field":"x","type":"quantitative"},"y":{"field":"v2","type":"quantitative"}}},
   {"data":{"name":"blades"},"transform":[{"filter":"datum.panel==3"}],
    "mark":{"type":"rect","stroke":"black","strokeWidth":2.5,"cornerRadius":2,
     "fill":{"gradient":"linear","x1":0,"y1":0,"x2":0.1406,"y2":1.109,"stops":[
      {"offset":0,"color":"#fff"},
      {"offset":0.011,"color":"#fff"},{"offset":0.011,"color":"#000"},{"offset":0.029,"color":"#000"},{"offset":0.029,"color":"#fff"},
      {"offset":0.091,"color":"#fff"},{"offset":0.091,"color":"#000"},{"offset":0.109,"color":"#000"},{"offset":0.109,"color":"#fff"},
      {"offset":0.171,"color":"#fff"},{"offset":0.171,"color":"#000"},{"offset":0.189,"color":"#000"},{"offset":0.189,"color":"#fff"},
      {"offset":0.251,"color":"#fff"},{"offset":0.251,"color":"#000"},{"offset":0.269,"color":"#000"},{"offset":0.269,"color":"#fff"},
      {"offset":0.331,"color":"#fff"},{"offset":0.331,"color":"#000"},{"offset":0.349,"color":"#000"},{"offset":0.349,"color":"#fff"},
      {"offset":0.411,"color":"#fff"},{"offset":0.411,"color":"#000"},{"offset":0.429,"color":"#000"},{"offset":0.429,"color":"#fff"},
      {"offset":0.491,"color":"#fff"},{"offset":0.491,"color":"#000"},{"offset":0.509,"color":"#000"},{"offset":0.509,"color":"#fff"},
      {"offset":0.571,"color":"#fff"},{"offset":0.571,"color":"#000"},{"offset":0.589,"color":"#000"},{"offset":0.589,"color":"#fff"},
      {"offset":0.651,"color":"#fff"},{"offset":0.651,"color":"#000"},{"offset":0.669,"color":"#000"},{"offset":0.669,"color":"#fff"},
      {"offset":0.731,"color":"#fff"},{"offset":0.731,"color":"#000"},{"offset":0.749,"color":"#000"},{"offset":0.749,"color":"#fff"},
      {"offset":0.811,"color":"#fff"},{"offset":0.811,"color":"#000"},{"offset":0.829,"color":"#000"},{"offset":0.829,"color":"#fff"},
      {"offset":0.891,"color":"#fff"},{"offset":0.891,"color":"#000"},{"offset":0.909,"color":"#000"},{"offset":0.909,"color":"#fff"},
      {"offset":0.971,"color":"#fff"},{"offset":0.971,"color":"#000"},{"offset":0.989,"color":"#000"},{"offset":0.989,"color":"#fff"},
      {"offset":1,"color":"#fff"}]}},
    "encoding":{"x":{"field":"x0","type":"quantitative"},"x2":{"field":"x1"},"y":{"field":"top","type":"quantitative"},"y2":{"datum":100}}},
   {"data":{"name":"labels"},"transform":[{"filter":"datum.panel==3"}],
    "mark":{"type":"text","font":"DejaVu Sans Condensed","fontSize":22,"fontWeight":"bold","color":"black","align":"center","baseline":"middle"},
    "encoding":{"x":{"field":"x","type":"quantitative"},"y":{"field":"v","type":"quantitative"},"text":{"field":"text"}}}
  ]},
 {"width":617,"height":240,
  "layer":[
   {"data":{"name":"curves"},"transform":[{"filter":"datum.panel==4 && datum.style=='solid'"}],
    "mark":{"type":"line","interpolate":"monotone","color":"black","strokeWidth":3},
    "encoding":{
     "x":{"field":"x","type":"quantitative","scale":{"domain":[0,200],"nice":false,"zero":false},"axis":{"values":[0,100,200],"ticks":false,"labelPadding":5,"title":"PERCENT OF BLADE SPACING","titleFontSize":21,"titleFontWeight":"bold","titlePadding":9}},
     "y":{"field":"v","type":"quantitative","scale":{"domain":[100,200],"nice":false,"zero":false},"axis":{"values":[100,150,200],"tickSize":-25,"labelPadding":34,"title":null}},
     "detail":{"field":"seg"}}},
   {"data":{"name":"curves"},"transform":[{"filter":"datum.panel==4 && datum.style=='dashed'"}],
    "mark":{"type":"line","interpolate":"monotone","color":"black","strokeWidth":3,"strokeDash":[10,6]},
    "encoding":{"x":{"field":"x","type":"quantitative"},"y":{"field":"v","type":"quantitative"},"detail":{"field":"seg"}}},
   {"data":{"name":"errs"},"transform":[{"filter":"datum.panel==4"}],
    "mark":{"type":"rule","color":"black","strokeWidth":2.5},
    "encoding":{"x":{"field":"x","type":"quantitative"},"y":{"field":"v","type":"quantitative"},"y2":{"field":"v2"}}},
   {"data":{"name":"errs"},"transform":[{"filter":"datum.panel==4"}],
    "mark":{"type":"tick","orient":"horizontal","size":11,"thickness":2.5,"color":"black"},
    "encoding":{"x":{"field":"x","type":"quantitative"},"y":{"field":"v","type":"quantitative"}}},
   {"data":{"name":"errs"},"transform":[{"filter":"datum.panel==4"}],
    "mark":{"type":"tick","orient":"horizontal","size":11,"thickness":2.5,"color":"black"},
    "encoding":{"x":{"field":"x","type":"quantitative"},"y":{"field":"v2","type":"quantitative"}}},
   {"data":{"name":"blades"},"transform":[{"filter":"datum.panel==4"}],
    "mark":{"type":"rect","stroke":"black","strokeWidth":2.5,"cornerRadius":2,
     "fill":{"gradient":"linear","x1":0,"y1":0,"x2":0.1406,"y2":1.109,"stops":[
      {"offset":0,"color":"#fff"},
      {"offset":0.011,"color":"#fff"},{"offset":0.011,"color":"#000"},{"offset":0.029,"color":"#000"},{"offset":0.029,"color":"#fff"},
      {"offset":0.091,"color":"#fff"},{"offset":0.091,"color":"#000"},{"offset":0.109,"color":"#000"},{"offset":0.109,"color":"#fff"},
      {"offset":0.171,"color":"#fff"},{"offset":0.171,"color":"#000"},{"offset":0.189,"color":"#000"},{"offset":0.189,"color":"#fff"},
      {"offset":0.251,"color":"#fff"},{"offset":0.251,"color":"#000"},{"offset":0.269,"color":"#000"},{"offset":0.269,"color":"#fff"},
      {"offset":0.331,"color":"#fff"},{"offset":0.331,"color":"#000"},{"offset":0.349,"color":"#000"},{"offset":0.349,"color":"#fff"},
      {"offset":0.411,"color":"#fff"},{"offset":0.411,"color":"#000"},{"offset":0.429,"color":"#000"},{"offset":0.429,"color":"#fff"},
      {"offset":0.491,"color":"#fff"},{"offset":0.491,"color":"#000"},{"offset":0.509,"color":"#000"},{"offset":0.509,"color":"#fff"},
      {"offset":0.571,"color":"#fff"},{"offset":0.571,"color":"#000"},{"offset":0.589,"color":"#000"},{"offset":0.589,"color":"#fff"},
      {"offset":0.651,"color":"#fff"},{"offset":0.651,"color":"#000"},{"offset":0.669,"color":"#000"},{"offset":0.669,"color":"#fff"},
      {"offset":0.731,"color":"#fff"},{"offset":0.731,"color":"#000"},{"offset":0.749,"color":"#000"},{"offset":0.749,"color":"#fff"},
      {"offset":0.811,"color":"#fff"},{"offset":0.811,"color":"#000"},{"offset":0.829,"color":"#000"},{"offset":0.829,"color":"#fff"},
      {"offset":0.891,"color":"#fff"},{"offset":0.891,"color":"#000"},{"offset":0.909,"color":"#000"},{"offset":0.909,"color":"#fff"},
      {"offset":0.971,"color":"#fff"},{"offset":0.971,"color":"#000"},{"offset":0.989,"color":"#000"},{"offset":0.989,"color":"#fff"},
      {"offset":1,"color":"#fff"}]}},
    "encoding":{"x":{"field":"x0","type":"quantitative"},"x2":{"field":"x1"},"y":{"field":"top","type":"quantitative"},"y2":{"datum":100}}},
   {"data":{"name":"labels"},"transform":[{"filter":"datum.panel==4"}],
    "mark":{"type":"text","font":"DejaVu Sans Condensed","fontSize":22,"fontWeight":"bold","color":"black","align":"center","baseline":"middle"},
    "encoding":{"x":{"field":"x","type":"quantitative"},"y":{"field":"v","type":"quantitative"},"text":{"field":"text"}}}
  ]}
]
}
